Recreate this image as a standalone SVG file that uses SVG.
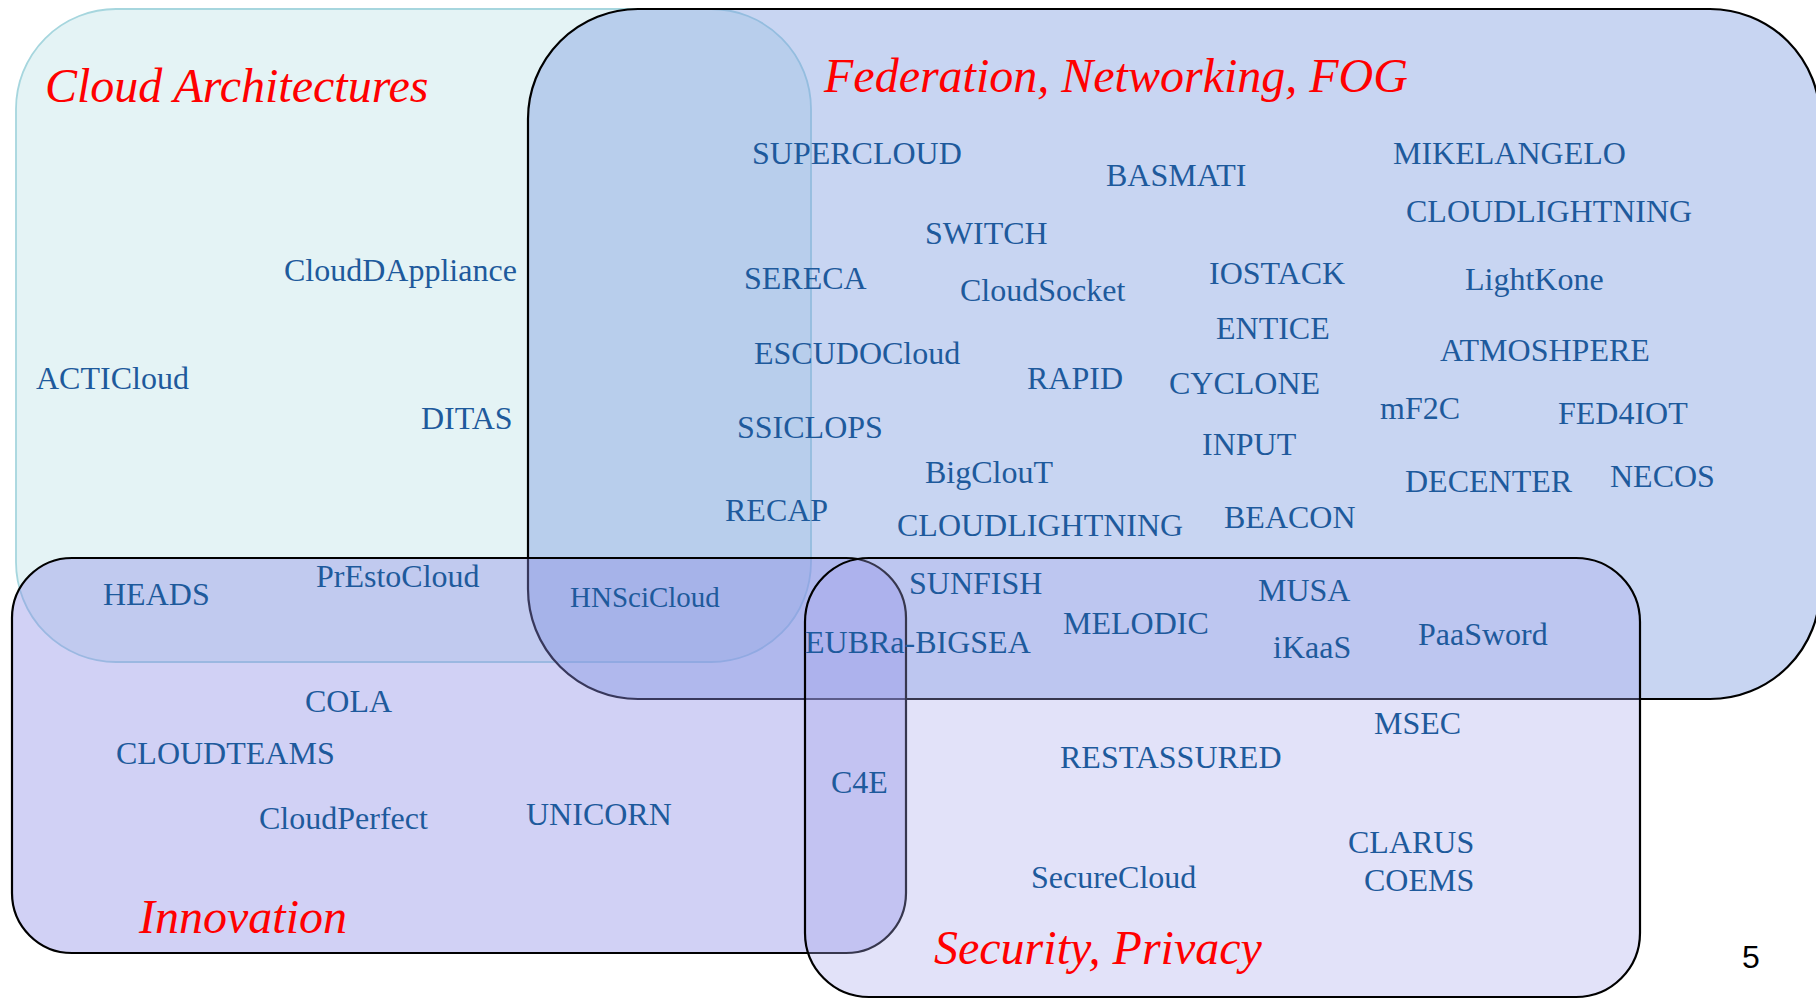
<svg xmlns="http://www.w3.org/2000/svg" width="1816" height="999" viewBox="0 0 1816 999">
<style>
.lbl{font-family:"Liberation Serif","Times New Roman",serif;font-size:32px;fill:#1e5a9c}
.ttl{font-family:"Liberation Serif","Times New Roman",serif;font-size:48px;font-style:italic;fill:#ff0000}
.box{stroke:#000;stroke-width:2.2}
</style>
<rect width="1816" height="999" fill="#ffffff"/>
<g id="cloud-architectures">
<rect x="16" y="9" width="795" height="653" rx="100" fill="#9fd3dc" fill-opacity="0.28" stroke="#a6d6de" stroke-width="1.8"/>
<text class="ttl" x="45" y="102">Cloud Architectures</text>
</g>
<g id="federation">
<rect class="box" x="528" y="9" width="1292" height="690" rx="110" fill="#7d9be0" fill-opacity="0.42"/>
<text class="ttl" x="824" y="92">Federation, Networking, FOG</text>
</g>
<g id="innovation">
<rect class="box" x="12" y="558" width="894" height="395" rx="60" fill="#8c8ce6" fill-opacity="0.4"/>
<text class="ttl" x="139" y="933">Innovation</text>
</g>
<g id="security">
<rect class="box" x="805" y="558" width="835" height="439" rx="64" fill="#a8a8ec" fill-opacity="0.33"/>
<text class="ttl" x="934" y="964">Security, Privacy</text>
</g>
<g id="connectors"></g>
<g id="labels" transform="translate(0,1)">
<text id="n-clouddappliance" class="lbl" x="284" y="280">CloudDAppliance</text>
<text id="n-acticloud" class="lbl" x="36" y="388">ACTICloud</text>
<text id="n-ditas" class="lbl" x="421" y="428">DITAS</text>
<text id="n-supercloud" class="lbl" x="752" y="163">SUPERCLOUD</text>
<text id="n-sereca" class="lbl" x="744" y="288">SERECA</text>
<text id="n-escudocloud" class="lbl" x="754" y="363">ESCUDOCloud</text>
<text id="n-ssiclops" class="lbl" x="737" y="437">SSICLOPS</text>
<text id="n-recap" class="lbl" x="725" y="520">RECAP</text>
<text id="n-mikelangelo" class="lbl" x="1393" y="163">MIKELANGELO</text>
<text id="n-basmati" class="lbl" x="1106" y="185">BASMATI</text>
<text id="n-cloudlightning-1" class="lbl" x="1406" y="221">CLOUDLIGHTNING</text>
<text id="n-switch" class="lbl" x="925" y="243">SWITCH</text>
<text id="n-iostack" class="lbl" x="1209" y="283">IOSTACK</text>
<text id="n-lightkone" class="lbl" x="1465" y="289">LightKone</text>
<text id="n-cloudsocket" class="lbl" x="960" y="300">CloudSocket</text>
<text id="n-entice" class="lbl" x="1216" y="338">ENTICE</text>
<text id="n-atmoshpere" class="lbl" x="1440" y="360">ATMOSHPERE</text>
<text id="n-rapid" class="lbl" x="1027" y="388">RAPID</text>
<text id="n-cyclone" class="lbl" x="1169" y="393">CYCLONE</text>
<text id="n-mf2c" class="lbl" x="1380" y="418">mF2C</text>
<text id="n-fed4iot" class="lbl" x="1558" y="423">FED4IOT</text>
<text id="n-input" class="lbl" x="1202" y="454">INPUT</text>
<text id="n-bigclout" class="lbl" x="925" y="482">BigClouT</text>
<text id="n-decenter" class="lbl" x="1405" y="491">DECENTER</text>
<text id="n-necos" class="lbl" x="1610" y="486">NECOS</text>
<text id="n-cloudlightning-2" class="lbl" x="897" y="535">CLOUDLIGHTNING</text>
<text id="n-beacon" class="lbl" x="1224" y="527">BEACON</text>
<text id="n-heads" class="lbl" x="103" y="604">HEADS</text>
<text id="n-prestocloud" class="lbl" x="316" y="586">PrEstoCloud</text>
<text id="n-hnscicloud" class="lbl" x="570" y="606" style="font-size:29px">HNSciCloud</text>
<text id="n-sunfish" class="lbl" x="909" y="593">SUNFISH</text>
<text id="n-musa" class="lbl" x="1258" y="600">MUSA</text>
<text id="n-melodic" class="lbl" x="1063" y="633">MELODIC</text>
<text id="n-eubra-bigsea" class="lbl" x="805" y="652">EUBRa-BIGSEA</text>
<text id="n-ikaas" class="lbl" x="1273" y="657">iKaaS</text>
<text id="n-paasword" class="lbl" x="1418" y="644">PaaSword</text>
<text id="n-cola" class="lbl" x="305" y="711">COLA</text>
<text id="n-cloudteams" class="lbl" x="116" y="763">CLOUDTEAMS</text>
<text id="n-c4e" class="lbl" x="831" y="792">C4E</text>
<text id="n-cloudperfect" class="lbl" x="259" y="828">CloudPerfect</text>
<text id="n-unicorn" class="lbl" x="526" y="824">UNICORN</text>
<text id="n-msec" class="lbl" x="1374" y="733">MSEC</text>
<text id="n-restassured" class="lbl" x="1060" y="767">RESTASSURED</text>
<text id="n-clarus" class="lbl" x="1348" y="852">CLARUS</text>
<text id="n-coems" class="lbl" x="1364" y="890">COEMS</text>
<text id="n-securecloud" class="lbl" x="1031" y="887">SecureCloud</text>
</g>
<text id="page-number" x="1742" y="968" font-family="Liberation Sans, Arial, sans-serif" font-size="32" fill="#000000">5</text>
</svg>
